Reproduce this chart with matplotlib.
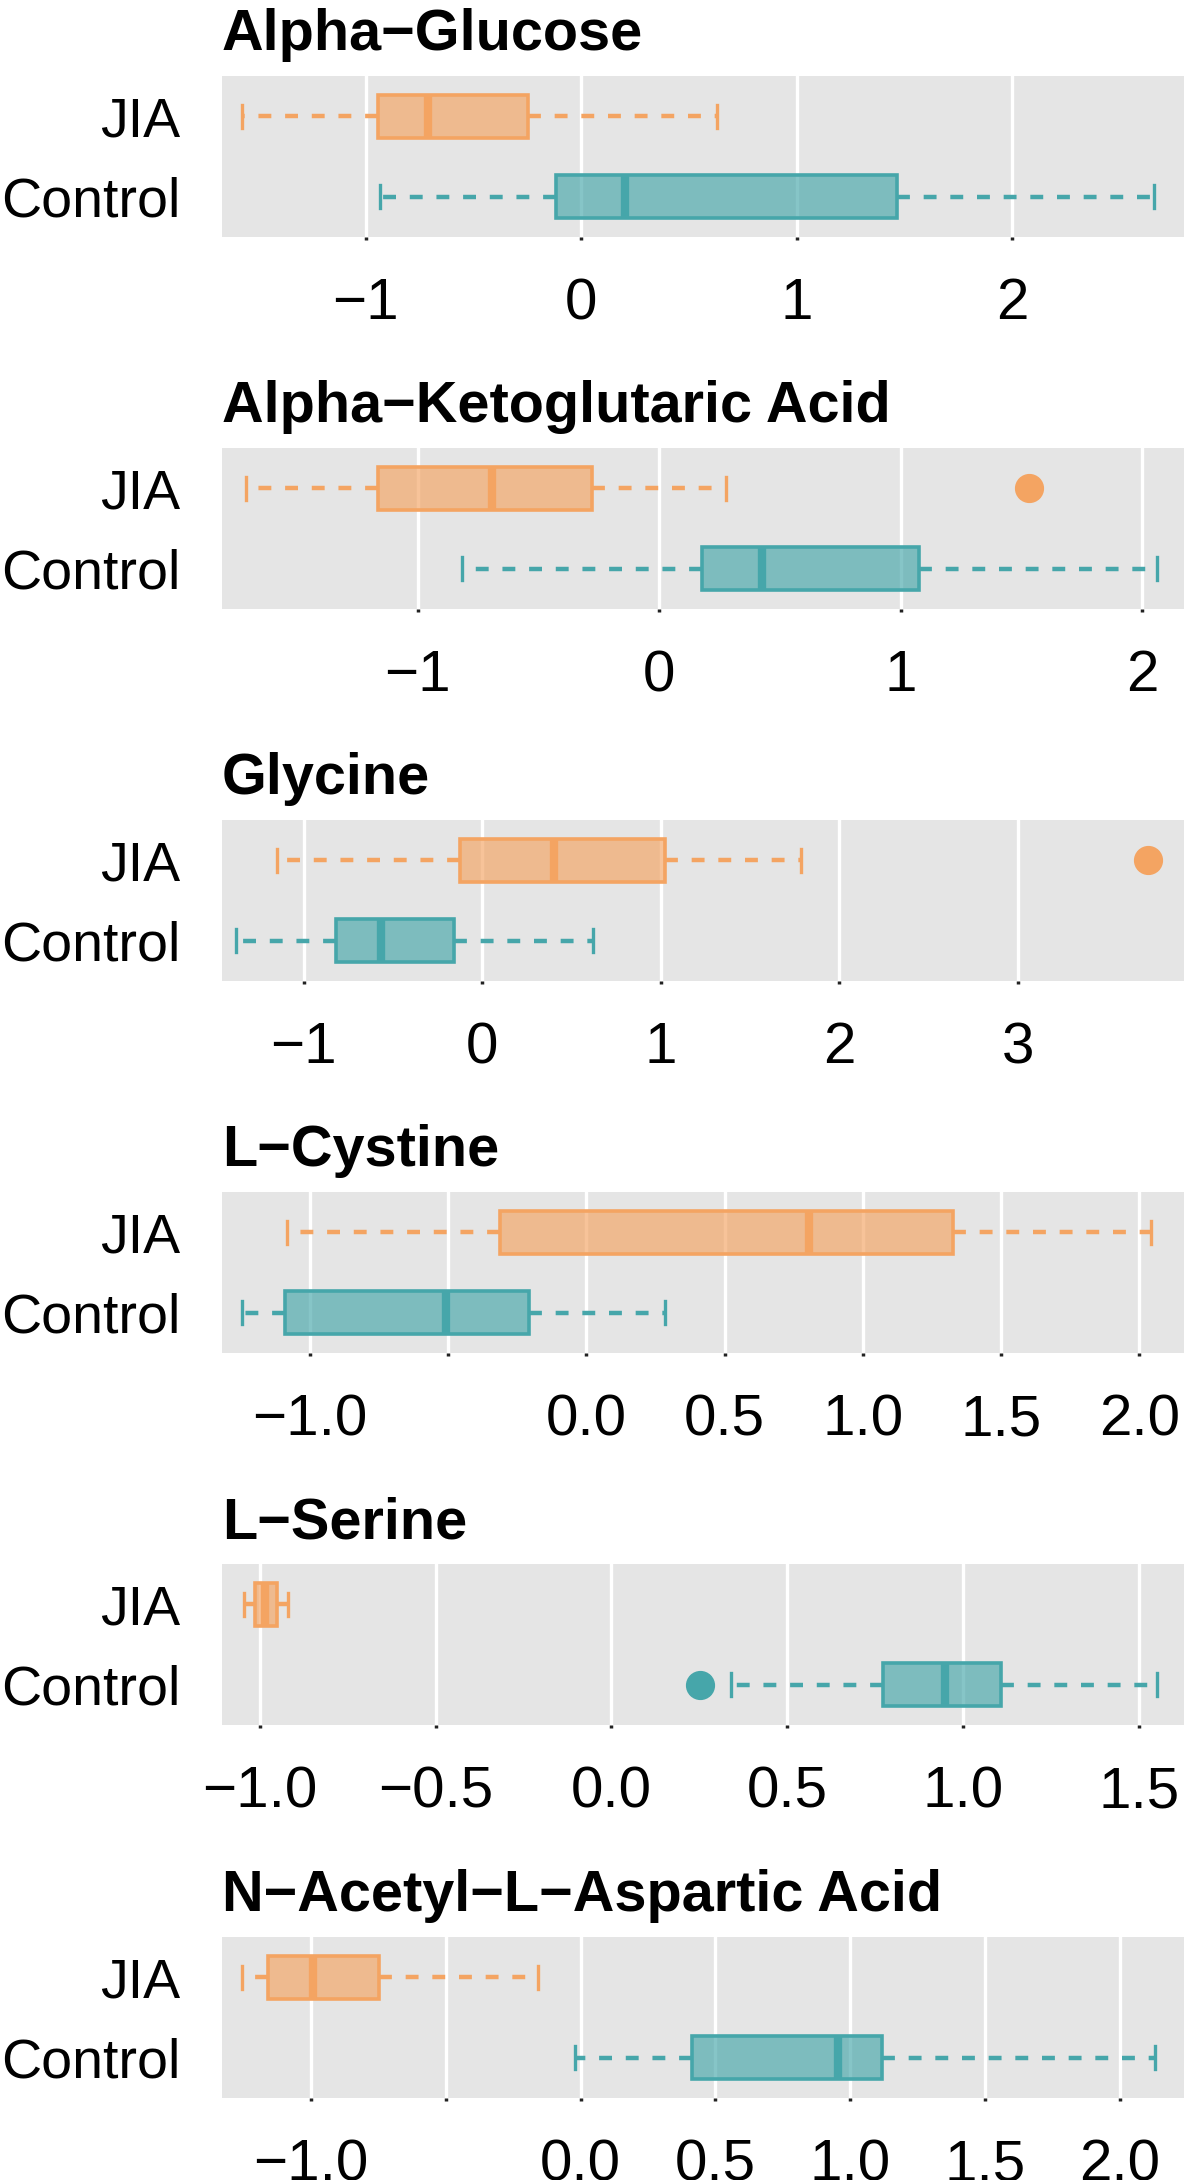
import matplotlib
matplotlib.use('Agg')
import matplotlib.pyplot as plt
from matplotlib.colors import to_rgba

plt.rcParams['font.family'] = ['Liberation Sans', 'DejaVu Sans']

# ---------------- data ----------------
titles = ['Alpha\u2212Glucose', 'Alpha\u2212Ketoglutaric Acid', 'Glycine',
          'L\u2212Cystine', 'L\u2212Serine', 'N\u2212Acetyl\u2212L\u2212Aspartic Acid']
groups = ['JIA', 'Control']

# (whislo, q1, median, q3, whishi)
jia_stats = [
    (-1.572, -0.944, -0.709, -0.246, 0.628),
    (-1.711, -1.166, -0.693, -0.280, 0.275),
    (-1.149, -0.125, 0.404, 1.021, 1.782),
    (-1.084, -0.314, 0.807, 1.325, 2.043),
    (-1.045, -1.013, -0.985, -0.951, -0.920),
    (-1.255, -1.160, -0.994, -0.750, -0.158),
]
jia_fliers = [[], [1.531], [3.727], [], [], []]

control_stats = [
    (-0.933, -0.116, 0.204, 1.463, 2.656),
    (-0.818, 0.175, 0.426, 1.075, 2.062),
    (-1.376, -0.819, -0.565, -0.159, 0.619),
    (-1.247, -1.090, -0.509, -0.209, 0.285),
    (0.341, 0.772, 0.950, 1.108, 1.551),
    (-0.022, 0.413, 0.955, 1.118, 2.130),
]
control_fliers = [[], [], [], [], [0.253], []]

x_limits = [(-1.667, 2.797), (-1.811, 2.172), (-1.457, 3.929),
            (-1.318, 2.162), (-1.108, 1.629), (-1.331, 2.239)]
x_ticks = [
    [-1, 0, 1, 2],
    [-1, 0, 1, 2],
    [-1, 0, 1, 2, 3],
    [-1.0, -0.5, 0.0, 0.5, 1.0, 1.5, 2.0],
    [-1.0, -0.5, 0.0, 0.5, 1.0, 1.5],
    [-1.0, -0.5, 0.0, 0.5, 1.0, 1.5, 2.0],
]
x_ticklabels = [
    ['\u22121', '0', '1', '2'],
    ['\u22121', '0', '1', '2'],
    ['\u22121', '0', '1', '2', '3'],
    ['\u22121.0', '', '0.0', '0.5', '1.0', '1.5', '2.0'],
    ['\u22121.0', '\u22120.5', '0.0', '0.5', '1.0', '1.5'],
    ['\u22121.0', '', '0.0', '0.5', '1.0', '1.5', '2.0'],
]

# ---------------- style ----------------
col_jia = '#F4A462'
col_ctl = '#46A6AA'
alpha_fill = 0.65

W, H = 1184, 2180
fig = plt.figure(figsize=(W / 100, H / 100), dpi=100)

panel_tops = [76, 448, 820, 1192, 1564, 1937]
panel_h = 161
left_px = 222


def draw_box(ax, stat, fliers, pos, color):
    lo, q1, med, q3, hi = stat
    s = dict(whislo=lo, q1=q1, med=med, q3=q3, whishi=hi, fliers=fliers)
    fc = to_rgba(color, alpha_fill)
    ax.bxp([s], positions=[pos], widths=0.535, capwidths=0.28,
           orientation='horizontal', patch_artist=True, manage_ticks=False,
           boxprops=dict(facecolor=fc, edgecolor=color, linewidth=2.6),
           whiskerprops=dict(color=color, linewidth=3.2, linestyle=(0, (2.9, 3.1))),
           capprops=dict(color=color, linewidth=2.4),
           medianprops=dict(color=color, linewidth=6, solid_capstyle='butt'),
           flierprops=dict(marker='o', markerfacecolor=color, markeredgecolor=color,
                           markersize=20, linestyle='none'))


for i in range(len(titles)):
    top = panel_tops[i]
    ax = fig.add_axes([left_px / W, 1 - (top + panel_h) / H, (W - left_px) / W, panel_h / H])
    ax.set_facecolor('#E5E5E5')
    ax.set_axisbelow(True)
    ax.grid(axis='x', color='white', linewidth=2.4)
    for sp in ax.spines.values():
        sp.set_visible(False)

    draw_box(ax, jia_stats[i], jia_fliers[i], 0, col_jia)
    draw_box(ax, control_stats[i], control_fliers[i], 1, col_ctl)

    ax.set_xlim(*x_limits[i])
    ax.set_ylim(1.5, -0.5)
    ax.set_xticks(x_ticks[i], x_ticklabels[i])
    ax.set_yticks([0, 1], groups)
    ax.tick_params(axis='y', length=0, pad=30, labelsize=40)
    ax.tick_params(axis='x', length=2, width=2.5, pad=27, labelsize=42, color='#222222')

    ax.annotate(titles[i], xy=(0, 1), xycoords='axes fraction', xytext=(0, 18.7),
                textcoords='offset points', ha='left', va='baseline',
                fontsize=41.5, fontweight='bold')

fig.savefig('out.png', dpi=100)
